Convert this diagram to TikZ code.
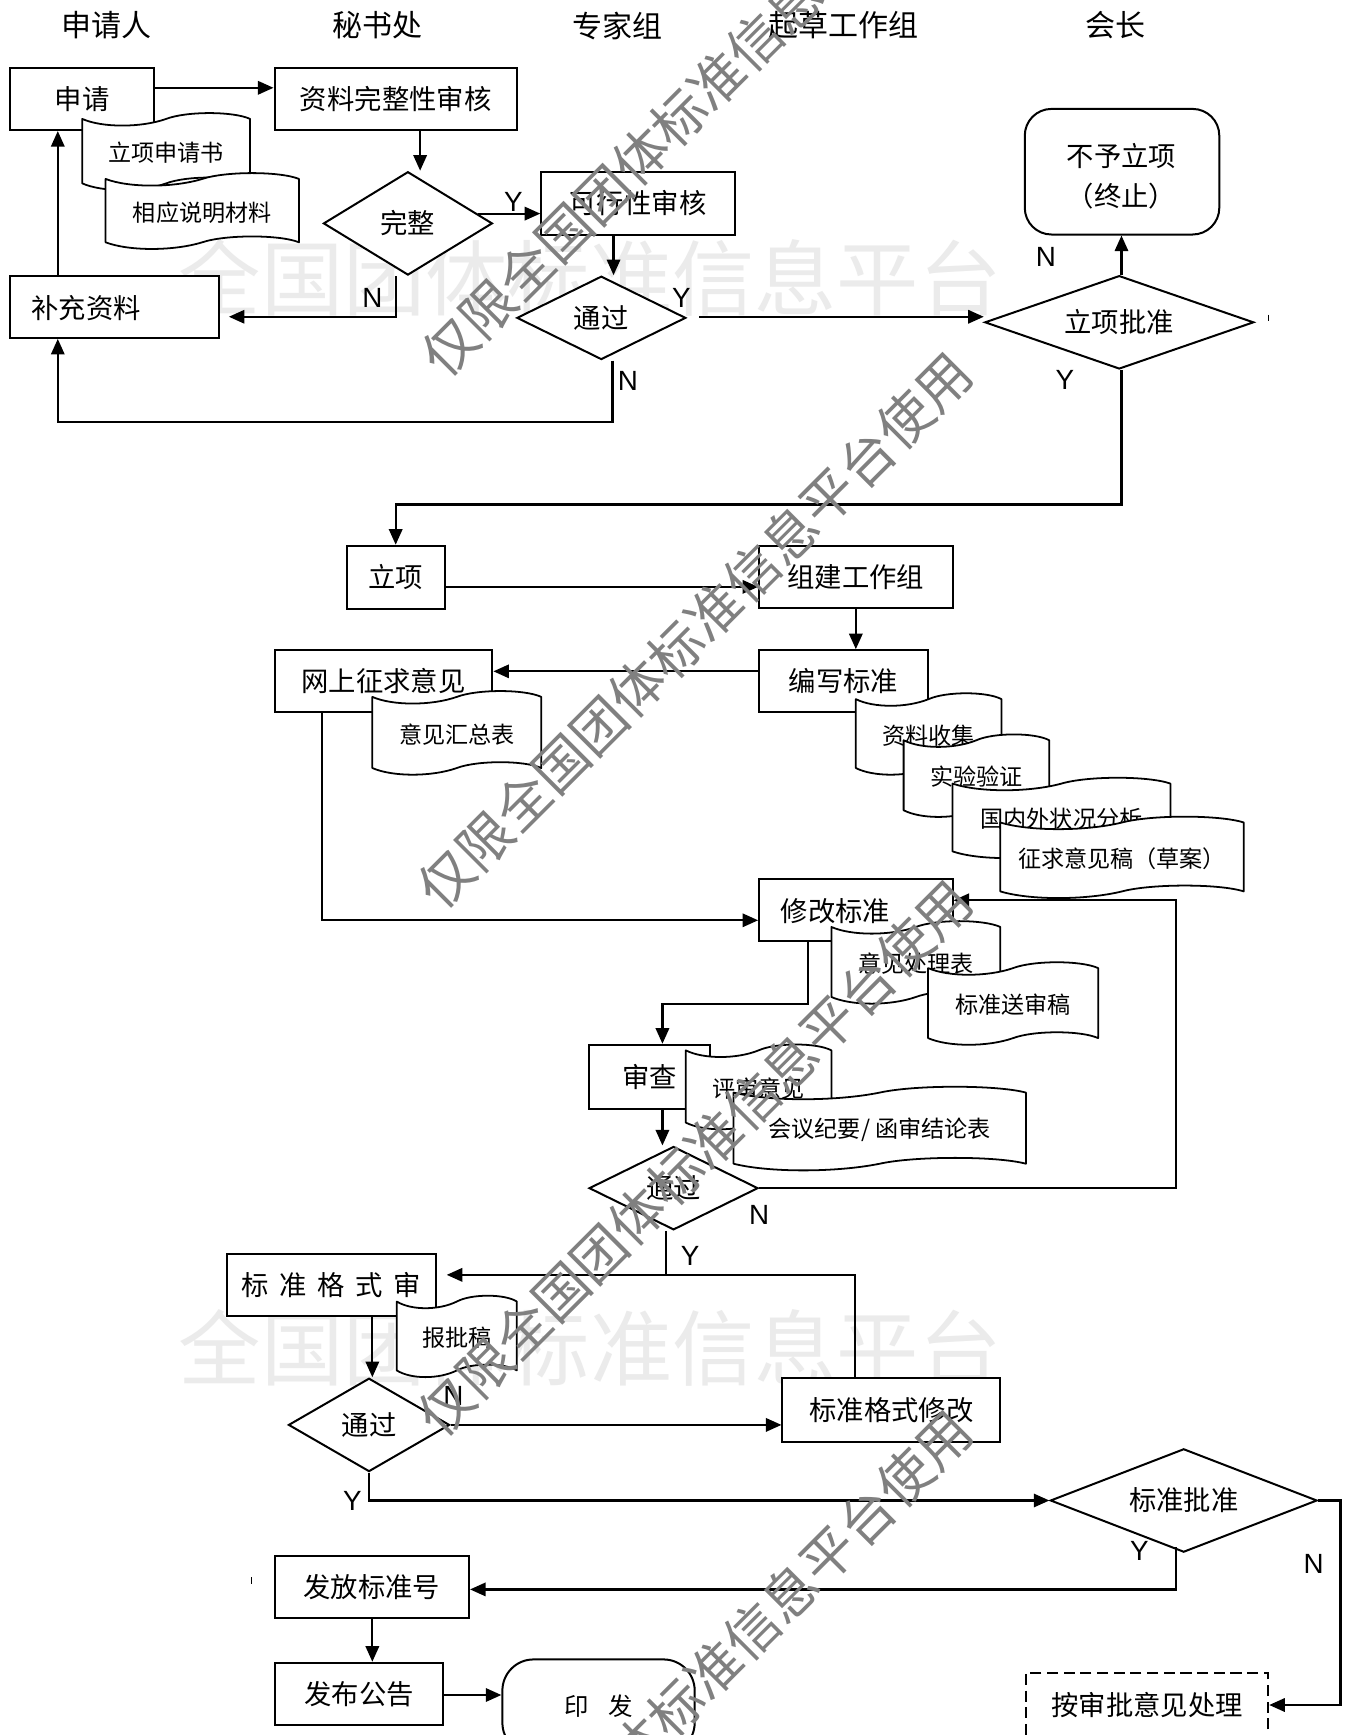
\documentclass[tikz,border=0pt]{standalone}
\usepackage{fontspec}
\setmainfont{Noto Sans CJK SC}
\newfontfamily\ynfont{Liberation Sans}
\usetikzlibrary{arrows.meta,shapes.geometric}
\newcommand\docshape[6]{%
  \pgfmathsetmacro\dsW{#3-#2}%
  \pgfmathsetmacro\dsT{#4+5}%
  \pgfmathsetmacro\dsB{#5-6}%
  \draw[docline] (#2,\dsT)
    .. controls ({#2+0.12*\dsW},{\dsT+8}) and ({#2+0.35*\dsW},{\dsT+8}) .. ({#2+0.5*\dsW},\dsT)
    .. controls ({#2+0.62*\dsW},{\dsT-7}) and ({#2+0.9*\dsW},{\dsT-7}) .. (#3,\dsT)
    -- (#3,\dsB)
    .. controls ({#2+0.9*\dsW},{\dsB-7}) and ({#2+0.62*\dsW},{\dsB-7}) .. ({#2+0.5*\dsW},\dsB)
    .. controls ({#2+0.35*\dsW},{\dsB+8}) and ({#2+0.12*\dsW},{\dsB+8}) .. (#2,\dsB)
    -- cycle;
  \node[doctext] (#1) at ({(#2+#3)/2},{(#4+#5)/2+1}) {#6};
}
\newcommand\bxnode[7][]{%
  \pgfmathsetmacro\bxW{(#5-#3)*0.5}%
  \pgfmathsetmacro\bxH{(#6-#4)*0.5}%
  \node[box,minimum width=\bxW pt,minimum height=\bxH pt,#1] (#2) at ({(#3+#5)/2},{(#4+#6)/2}) {#7};
}
\begin{document}
\begin{tikzpicture}[x=0.5pt,y=-0.5pt,
  box/.style={draw, line width=0.9pt, fill=white, inner sep=0pt, font=\fontsize{12.3}{18}\selectfont},
  dia/.style={draw, diamond, aspect=2, line width=0.9pt, fill=white, inner sep=0pt, font=\fontsize{12.3}{15}\selectfont},
  btext/.style={inner sep=0pt, font=\fontsize{12.3}{15}\selectfont},
  head/.style={font=\fontsize{13.5}{16}\selectfont, inner sep=0pt},
  docline/.style={draw, line width=0.8pt, fill=white, line join=round},
  doctext/.style={font=\fontsize{10.4}{12}\selectfont, inner sep=0pt},
  yn/.style={font=\ynfont\fontsize{12.5}{14}\selectfont, inner sep=0pt},
  arr/.style={line width=1pt, -{Triangle[length=7pt,width=6pt]}},
  ln/.style={line width=1pt},
  wm/.style={font=\fontsize{24.3}{28}\selectfont, text=black!50, inner sep=0pt, rotate=45},
  lwm/.style={font=\fontsize{37}{40}\selectfont, text=black!8, inner sep=0pt},
]
\useasboundingbox[fill=white] (0,0) rectangle (1213,1561);

% light background watermark
\node[lwm] (lw1) at (531,250) {全国团体标准信息平台};
\node[lwm] (lw2) at (531,1213) {全国团体标准信息平台};

% headers
\node[head] (h1) at (96,23) {申请人};
\node[head] (h2) at (340,23) {秘书处};
\node[head] (h3) at (556,23) {专家组};
\node[head] (h4) at (759,23) {起草工作组};
\node[head] (h5) at (1004,23) {会长};

% boxes
\bxnode{apply}{9}{61}{139}{117}{申请}
\bxnode{check}{247}{61}{465}{117}{资料完整性审核}
\bxnode{feas}{487}{155}{661}{211}{可行性审核}
\bxnode{supp}{9}{248}{197}{304}{}
\node[btext, anchor=west] (supptx) at (28,277) {补充资料};
\bxnode[rounded corners=12pt]{reject}{922}{98}{1097}{211}{}
\node[btext, align=center, font=\fontsize{12.3}{18}\selectfont] (rejecttx) at (1009,159) {不予立项\\（终止）};
\bxnode{lixiang}{312}{491}{400}{548}{立项}
\bxnode{zujian}{683}{491}{857}{547}{组建工作组}
\bxnode{online}{247}{585}{443}{641}{网上征求意见}
\bxnode{write}{683}{585}{835}{641}{编写标准}
\bxnode{revise}{683}{791}{857}{847}{}
\node[btext, anchor=west] (revisetx) at (702,820) {修改标准};
\bxnode{review}{530}{940}{639}{998}{审查}
\bxnode{fmt}{204}{1128}{392}{1184}{标\hspace{4.8pt}准\hspace{4.8pt}格\hspace{4.8pt}式\hspace{4.8pt}审}
\bxnode{fmtfix}{704}{1240}{900}{1297}{标准格式修改}
\bxnode{issue}{247}{1400}{422}{1456}{发放标准号}
\bxnode{pub}{247}{1496}{399}{1552}{发布公告}
\bxnode[rounded corners=14pt, font=\fontsize{11}{13}\selectfont]{print}{452}{1493}{625}{1578}{印\hspace{0.8em}发}
\bxnode[dash pattern=on 5pt off 2.5pt]{dash}{923}{1505}{1141}{1563}{按审批意见处理}

% diamonds
\node[dia, minimum width=76pt, minimum height=46.5pt] (wz) at (367,201) {完整};
\node[dia, minimum width=76pt, minimum height=37.5pt] (tg1) at (541,286) {通过};
\node[dia, minimum width=121pt, minimum height=42pt] (lxpz) at (1007,290) {立项批准};
\node[dia, minimum width=76pt, minimum height=37.5pt] (tg2) at (606,1069) {通过};
\node[dia, minimum width=72.5pt, minimum height=42pt] (tg3) at (332,1282) {通过};
\node[dia, minimum width=120pt, minimum height=46.5pt] (bzpz) at (1065,1350) {标准批准};

% routing coordinates
\coordinate (yA) at (0,79);
\coordinate (xB) at (378,0);
\coordinate (xC) at (356,0);
\coordinate (yC) at (0,285);
\coordinate (xD) at (52,0);
\coordinate (xE) at (552,0);
\coordinate (xG) at (551,0);
\coordinate (yH) at (0,380);
\coordinate (xI) at (1009,0);
\coordinate (yJ) at (0,454);
\coordinate (yL) at (0,528);
\coordinate (xM) at (770,0);
\coordinate (yN) at (0,604);
\coordinate (xO) at (290,0);
\coordinate (yP) at (0,828);
\coordinate (xQ) at (727,0);
\coordinate (yR) at (0,903);
\coordinate (xS) at (596,0);
\coordinate (xU) at (1058,0);
\coordinate (yV) at (0,810);
\coordinate (xW) at (599,0);
\coordinate (yX) at (0,1147);
\coordinate (xY) at (769,0);
\coordinate (xZ) at (335,0);
\coordinate (yAB) at (0,1392);
\coordinate (yAC) at (0,1430);
\coordinate (yAD) at (0,1525);
\coordinate (xAE) at (1206,0);
\coordinate (yAF) at (0,1534);

% connectors
\draw[arr] (apply.east |- yA) -- (check.west |- yA);
\draw[arr] (xB |- check.south) -- (xB |- wz.north);
\draw[arr] (wz.8) -- (wz.8 -| feas.west);
\draw[arr, shorten >=4pt] (xC |- wz.south) -- (xC |- yC) -- (supp.east |- yC);
\draw[arr] (xD |- supp.north) -- (xD |- apply.south);
\draw[arr] (xE |- feas.south) -- (xE |- tg1.north);
\draw[arr, shorten <=5.5pt] (tg1.east |- yC) -- (lxpz.west |- yC);
\draw[arr] (xG |- tg1.south) -- (xG |- yH) -- (xD |- yH) -- (xD |- supp.south);
\draw[arr] (xI |- lxpz.north) -- (xI |- reject.south);
\draw[arr] (xI |- lxpz.south) -- (xI |- yJ) -- (xC |- yJ) -- (xC |- lixiang.north);
\draw[arr] (lixiang.east |- yL) -- (zujian.west |- yL);
\draw[arr] (xM |- zujian.south) -- (xM |- write.north);
\draw[arr] (write.west |- yN) -- (online.east |- yN);
\draw[arr] (xO |- online.south) -- (xO |- yP) -- (revise.west |- yP);
\draw[arr] (xQ |- revise.south) -- (xQ |- yR) -- (xS |- yR) -- (xS |- review.north);
\draw[arr] (xS |- review.south) -- (xS |- tg2.north);
\draw[arr] (tg2.east) -- (tg2.east -| xU) -- (xU |- yV) -- (revise.east |- yV);
\draw[ln] (xW |- tg2.south) -- (xW |- yX);
\draw[arr, shorten >=4.5pt] (xY |- fmtfix.north) -- (xY |- yX) -- (fmt.east |- yX);
\draw[arr] (xZ |- fmt.south) -- (xZ |- tg3.north);
\draw[arr] (tg3.east) -- (fmtfix.west |- tg3.east);
\draw[arr] (tg3.south) -- (tg3.south |- bzpz.west) -- (bzpz.west);
\draw[arr] (xU |- yAB) -- (xU |- yAC) -- (issue.east |- yAC);
\draw[arr] (xZ |- issue.south) -- (xZ |- pub.north);
\draw[arr] (pub.east |- yAD) -- (print.west |- yAD);
\draw[arr] (bzpz.east) -- (bzpz.east -| xAE) -- (xAE |- yAF) -- (dash.east |- yAF);

% small stray marks
\draw[line width=0.6pt] (1141,283) -- (1141,289);
\draw[line width=0.6pt] (226,1419) -- (226,1425);

% Y / N labels
\node[yn] (lYwz) at (462,182) {Y};
\node[yn] (lNwz) at (335,268) {N};
\node[yn] (lYtg1) at (613,268) {Y};
\node[yn] (lNtg1) at (565,343) {N};
\node[yn] (lNlx) at (941,231) {N};
\node[yn] (lYlx) at (958,342) {Y};
\node[yn] (lNtg2) at (683,1093) {N};
\node[yn] (lYtg2) at (621,1130) {Y};
\node[yn] (lNtg3) at (408,1256) {N};
\node[yn] (lYtg3) at (317,1350) {Y};
\node[yn] (lYbz) at (1025,1395) {Y};
\node[yn] (lNbz) at (1182,1407) {N};

% documents
\docshape{d1}{74}{225}{102}{171}{立项申请书}
\docshape{d2}{95}{269}{156}{224}{相应说明材料}
\docshape{d3}{335}{487}{622}{697}{意见汇总表}
\docshape{d4}{770}{901}{624}{697}{资料收集}
\docshape{d5}{813}{944}{661}{735}{实验验证}
\docshape{d6}{857}{1053}{700}{772}{国内外状况分析}
\docshape{d7}{900}{1119}{735}{808}{征求意见稿（草案）}
\docshape{d8}{748}{900}{829}{903}{意见处理表}
\docshape{d9}{835}{988}{866}{940}{标准送审稿}
\docshape{d10}{617}{748}{940}{1016}{评审意见}
\docshape{d11}{660}{923}{978}{1053}{会议纪要/ 函审结论表}
\docshape{d12}{357}{465}{1166}{1239}{报批稿}

% diagonal watermark
\node[wm] (wm1) at (628,89) {仅限全国团体标准信息平台使用};
\node[wm] (wm2) at (625,567) {仅限全国团体标准信息平台使用};
\node[wm] (wm3) at (625,1042) {仅限全国团体标准信息平台使用};
\node[wm] (wm4) at (625,1519) {仅限全国团体标准信息平台使用};
\end{tikzpicture}
\end{document}
